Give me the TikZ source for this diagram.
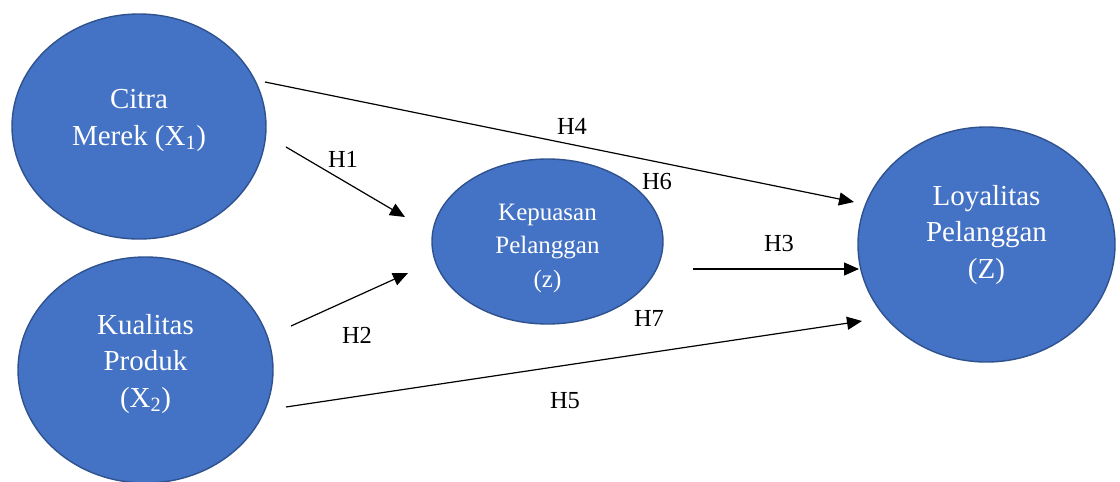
\documentclass[tikz,border=0pt]{standalone}
\usepackage{fontspec}
\setmainfont{Liberation Serif}
\usetikzlibrary{shapes.geometric,arrows.meta}
\definecolor{fillblue}{HTML}{4472C4}
\definecolor{edgeblue}{HTML}{2F528F}
\tikzset{
  var/.style={ellipse, draw=edgeblue, fill=fillblue, line width=1.4pt, inner sep=0pt},
  bigtext/.style={text=white, align=center, anchor=base, inner sep=0pt, font=\fontsize{29}{36.5}\selectfont},
  midtext/.style={text=white, align=center, anchor=base, inner sep=0pt, font=\fontsize{25}{33.5}\selectfont},
  hyp/.style={text=black, anchor=base, inner sep=0pt, font=\fontsize{24.5}{28}\selectfont},
  link/.style={draw=black, line width=1.2pt, -{Triangle[length=15pt,width=13pt]}}
}
\begin{document}
\begin{tikzpicture}[x=1pt,y=-1pt]
\useasboundingbox (0,0) rectangle (1120,482);
\clip (0,0) rectangle (1120,482);
\fill[white] (0,0) rectangle (1120,482);

\node[var, minimum width=254pt, minimum height=225pt] (citra) at (139,126.5) {};
\node[var, minimum width=255pt, minimum height=226pt] (kual) at (145.5,370) {};
\node[var, minimum width=231pt, minimum height=165pt] (kep) at (547.5,241.5) {};
\node[var, minimum width=257pt, minimum height=235pt] (loy) at (986.5,244.5) {};

\node[bigtext] (citraT) at (139,145) {Citra\\Merek (X\textsubscript{1})};
\node[bigtext] (kualT) at (145.5,407) {Kualitas\\Produk\\(X\textsubscript{2})};
\node[midtext] (kepT) at (547.5,287) {Kepuasan\\Pelanggan\\(z)};
\node[bigtext] (loyT) at (986.5,278) {Loyalitas\\Pelanggan\\(Z)};

\coordinate (h4s) at (265,82);   \coordinate (h4e) at (854,202);
\coordinate (h1s) at (286,147);  \coordinate (h1e) at (405,217);
\coordinate (h2s) at (291,326);  \coordinate (h2e) at (408,273);
\coordinate (h3s) at (693,269);  \coordinate (h3e) at (859,269);
\coordinate (h5s) at (286,407);  \coordinate (h5e) at (862,321);

\draw[link] (h4s) -- (h4e);
\draw[link] (h1s) -- (h1e);
\draw[link] (h2s) -- (h2e);
\draw[link] (h3s) -- (h3e);
\draw[link] (h5s) -- (h5e);

\node[hyp] (lH4) at (572,134) {H4};
\node[hyp] (lH1) at (343,167) {H1};
\node[hyp] (lH6) at (657,189) {H6};
\node[hyp] (lH3) at (779,251) {H3};
\node[hyp] (lH2) at (357,343) {H2};
\node[hyp] (lH7) at (649,326) {H7};
\node[hyp] (lH5) at (565,408) {H5};
\end{tikzpicture}
\end{document}
